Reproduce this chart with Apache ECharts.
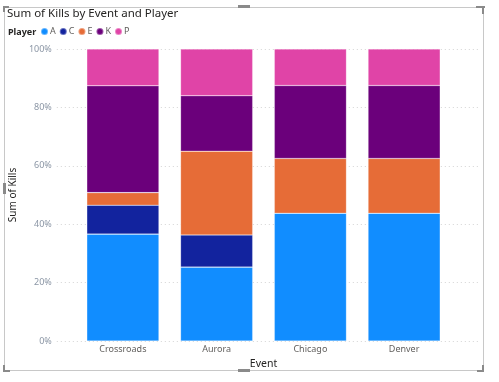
<!DOCTYPE html>
<html><head><meta charset="utf-8">
<script src="https://cdn.jsdelivr.net/npm/echarts@6/dist/echarts.min.js"></script>
<style>html,body{margin:0;padding:0;background:#fff}#c{width:499px;height:382px}</style>
</head><body><div id="c"></div>
<script>
const categories = ['Crossroads', 'Aurora', 'Chicago', 'Denver'];
const players = ['A', 'C', 'E', 'K', 'P'];
const valuesA = [36.6, 25.3, 43.75, 43.75];
const valuesC = [9.9, 11.0, 0, 0];
const valuesE = [4.3, 28.7, 18.75, 18.75];
const valuesK = [36.6, 19.0, 25, 25];
const valuesP = [12.6, 16.0, 12.5, 12.5];
const yTicks = [0, 20, 40, 60, 80, 100];
const colors = ['#118DFF', '#12239E', '#E66C37', '#6B007B', '#E044A7'];
const seriesValues = [valuesA, valuesC, valuesE, valuesK, valuesP];
const FONT = "'Segoe UI', 'Noto Sans', 'Open Sans', sans-serif";

const chart = echarts.init(document.getElementById('c'), null, {renderer: 'canvas'});
const series = players.map((p, i) => ({
  name: p, type: 'bar', stack: 'total', xAxisIndex: 0, yAxisIndex: 0,
  data: seriesValues[i], barCategoryGap: '23%',
  itemStyle: {color: colors[i], borderColor: 'rgba(255,255,255,0.35)', borderWidth: 0.6},
  emphasis: {disabled: true}
}));
series.push({type: 'line', xAxisIndex: 1, yAxisIndex: 1, data: [], silent: true});

chart.setOption({
  animation: false,
  color: colors,
  title: {
    text: 'Sum of Kills by Event and Player', left: 7, top: 8, padding: 0,
    textStyle: {fontFamily: FONT, fontSize: 11.5, fontWeight: 'normal', color: '#252423'}
  },
  legend: {
    data: players, left: 40, top: 27, padding: 0, icon: 'circle', itemWidth: 7, itemHeight: 7, itemGap: 3,
    textStyle: {fontFamily: FONT, fontSize: 9, color: '#605E5C', padding: [0, 0, 0, -3]}
  },
  grid: [
    {left: 76, right: 48, top: 49, bottom: 41},
    {left: 48, right: 19, top: 49, bottom: 41}
  ],
  xAxis: [
    {type: 'category', gridIndex: 0, data: categories,
     axisLine: {show: false}, axisTick: {show: false},
     axisLabel: {fontFamily: FONT, fontSize: 9, color: '#605E5C', margin: 4},
     name: 'Event', nameLocation: 'middle', nameGap: 18,
     nameTextStyle: {fontFamily: FONT, fontSize: 10.5, color: '#252423'}},
    {type: 'value', gridIndex: 1, show: false, min: 0, max: 1}
  ],
  yAxis: [
    {type: 'value', gridIndex: 0, min: 0, max: 100, interval: 20, show: false},
    {type: 'value', gridIndex: 1, min: yTicks[0], max: yTicks[yTicks.length - 1], interval: 20,
     axisLine: {show: false}, axisTick: {show: false},
     axisLabel: {fontFamily: FONT, fontSize: 9, color: '#8B96A5', margin: 5, formatter: v => v + '%'},
     splitLine: {show: true, lineStyle: {type: [1, 3], color: '#D4D4D4', width: 1}},
     name: 'Sum of Kills', nameLocation: 'middle', nameGap: 31, nameRotate: 90,
     nameTextStyle: {fontFamily: FONT, fontSize: 10, color: '#252423'}}
  ],
  graphic: [
    {type: 'rect', shape: {x: 4.5, y: 7.5, width: 479, height: 363}, style: {fill: 'none', stroke: '#C8C8C8', lineWidth: 1}, z: -1},
    {type: 'text', left: 8, top: 28, style: {text: 'Player', font: 'bold 9px ' + FONT, fill: '#252423'}},
    {type: 'rect', shape: {x: 3, y: 6, width: 6, height: 2}, style: {fill: '#8A8A8A'}},
    {type: 'rect', shape: {x: 3, y: 6, width: 2, height: 6}, style: {fill: '#8A8A8A'}},
    {type: 'rect', shape: {x: 238, y: 5, width: 12, height: 3}, style: {fill: '#8A8A8A'}},
    {type: 'rect', shape: {x: 476, y: 6, width: 9, height: 2}, style: {fill: '#8A8A8A'}},
    {type: 'rect', shape: {x: 482, y: 6, width: 2, height: 8}, style: {fill: '#8A8A8A'}},
    {type: 'rect', shape: {x: 3, y: 183, width: 3, height: 11}, style: {fill: '#8A8A8A'}},
    {type: 'rect', shape: {x: 238, y: 369, width: 12, height: 3}, style: {fill: '#8A8A8A'}},
    {type: 'rect', shape: {x: 3, y: 365, width: 2, height: 7}, style: {fill: '#8A8A8A'}},
    {type: 'rect', shape: {x: 3, y: 370, width: 7, height: 2}, style: {fill: '#8A8A8A'}},
    {type: 'rect', shape: {x: 482, y: 365, width: 2, height: 7}, style: {fill: '#8A8A8A'}},
    {type: 'rect', shape: {x: 477, y: 370, width: 7, height: 2}, style: {fill: '#8A8A8A'}}
  ],
  series: series
});
</script></body></html>
